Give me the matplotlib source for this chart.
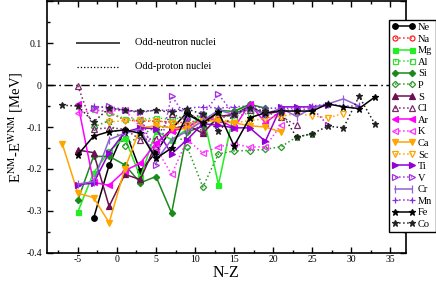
import matplotlib
matplotlib.use("Agg")
import matplotlib.pyplot as plt
from matplotlib.ticker import MultipleLocator, FuncFormatter

plt.rcParams['font.family'] = ['Liberation Serif', 'DejaVu Serif']
plt.rcParams['mathtext.fontset'] = 'stix'

# ---------------- data ----------------
ne_x = [-3, -1, 1, 3, 5, 7, 9, 11, 13]
ne_y = [-0.318, -0.191, -0.106, -0.205, -0.160, -0.105, -0.065, -0.090, -0.065]
na_x = [-1, 1, 3, 5, 7, 9, 11, 13, 15]
na_y = [-0.066, -0.083, -0.086, -0.086, -0.088, -0.090, -0.082, -0.075, -0.070]
mg_x = [-5, -3, -1, 1, 3, 5, 7, 9, 11, 13, 15, 17]
mg_y = [-0.302, -0.209, -0.158, -0.125, -0.220, -0.110, -0.130, -0.105, -0.068, -0.237, -0.062, -0.046]
al_x = [-3, -1, 1, 3, 5, 7, 9, 11, 13, 15, 17, 19, 21]
al_y = [-0.058, -0.065, -0.080, -0.082, -0.078, -0.082, -0.075, -0.075, -0.072, -0.075, -0.066, -0.070, -0.062]
si_x = [-5, -3, -1, 1, 3, 5, 7, 9, 11, 13, 15, 17, 19]
si_y = [-0.274, -0.170, -0.170, -0.190, -0.233, -0.218, -0.305, -0.112, -0.098, -0.060, -0.063, -0.046, -0.055]
p_x = [-3, -1, 1, 3, 5, 7, 9, 11, 13, 15, 17, 19, 21, 23, 25]
p_y = [-0.100, -0.085, -0.145, -0.120, -0.100, -0.100, -0.148, -0.243, -0.164, -0.157, -0.156, -0.153, -0.147, -0.124, -0.116]
s_x = [-5, -3, -1, 1, 3, 5, 7, 9, 11, 13, 15, 17, 19, 21]
s_y = [-0.155, -0.161, -0.289, -0.213, -0.225, -0.140, -0.105, -0.095, -0.115, -0.075, -0.070, -0.050, -0.070, -0.060]
cl_x = [-5, -3, -1, 1, 3, 5, 7, 9, 11, 13, 15, 17, 19, 21, 23]
cl_y = [-0.002, -0.105, -0.102, -0.105, -0.130, -0.128, -0.068, -0.085, -0.110, -0.080, -0.070, -0.060, -0.065, -0.075, -0.096]
ar_x = [-5, -3, -1, 1, 3, 5, 7, 9, 11, 13, 15, 17, 19, 21]
ar_y = [-0.045, -0.232, -0.239, -0.204, -0.186, -0.138, -0.110, -0.100, -0.080, -0.082, -0.102, -0.045, -0.090, -0.062]
k_x = [-5, -3, -1, 1, 3, 5, 7, 9, 11, 13, 15, 17, 19, 21]
k_y = [-0.066, -0.060, -0.062, -0.060, -0.100, -0.150, -0.213, -0.130, -0.162, -0.147, -0.140, -0.148, -0.147, -0.095]
ca_x = [-7, -5, -3, -1, 1, 3, 5, 7, 9, 11, 13, 15, 17, 19, 21]
ca_y = [-0.140, -0.258, -0.268, -0.328, -0.200, -0.102, -0.097, -0.102, -0.105, -0.086, -0.085, -0.090, -0.097, -0.100, -0.112]
sc_x = [-1, 1, 3, 5, 7, 9, 11, 13, 15, 17, 19, 21, 23, 25, 27, 29]
sc_y = [-0.088, -0.085, -0.083, -0.085, -0.090, -0.095, -0.085, -0.080, -0.090, -0.085, -0.080, -0.075, -0.068, -0.073, -0.078, -0.068]
ti_x = [-5, -3, -1, 1, 3, 5, 7, 9, 11, 13, 15, 17, 19, 21, 23, 25, 27]
ti_y = [-0.237, -0.234, -0.161, -0.112, -0.102, -0.104, -0.164, -0.130, -0.092, -0.096, -0.102, -0.102, -0.134, -0.052, -0.052, -0.052, -0.048]
v_x = [-3, -1, 1, 3, 5, 7, 9, 11, 13, 15, 17, 19, 21, 23, 25, 27]
v_y = [-0.055, -0.050, -0.060, -0.065, -0.190, -0.026, -0.080, -0.070, -0.022, -0.070, -0.055, -0.070, -0.060, -0.060, -0.055, -0.095]
cr_x = [-5, -3, -1, 1, 3, 5, 7, 9, 11, 13, 15, 17, 19, 21, 23, 25, 27, 29, 31]
cr_y = [-0.236, -0.230, -0.130, -0.115, -0.105, -0.180, -0.130, -0.110, -0.085, -0.060, -0.070, -0.055, -0.070, -0.055, -0.075, -0.055, -0.045, -0.033, -0.050]
mn_x = [-3, -1, 1, 3, 5, 7, 9, 11, 13, 15, 17, 19, 21, 23, 25, 27, 29, 31]
mn_y = [-0.050, -0.055, -0.060, -0.065, -0.060, -0.060, -0.055, -0.052, -0.055, -0.052, -0.050, -0.055, -0.055, -0.055, -0.050, -0.045, -0.050, -0.050]
fe_x = [-5, -3, -1, 1, 3, 5, 7, 9, 11, 13, 15, 17, 19, 21, 23, 25, 27, 29, 31, 33]
fe_y = [-0.166, -0.122, -0.111, -0.107, -0.115, -0.175, -0.150, -0.070, -0.090, -0.065, -0.145, -0.078, -0.066, -0.062, -0.062, -0.062, -0.045, -0.052, -0.056, -0.029]
co_x = [-7, -5, -3, -1, 1, 3, 5, 7, 9, 11, 13, 15, 17, 19, 21, 23, 25, 27, 29, 31, 33]
co_y = [-0.048, -0.050, -0.088, -0.055, -0.060, -0.063, -0.060, -0.065, -0.057, -0.070, -0.110, -0.070, -0.055, -0.062, -0.065, -0.124, -0.116, -0.098, -0.102, -0.027, -0.092]

labels = ["Ne", "Na", "Mg", "Al", "Si", "P", "S", "Cl", "Ar", "K",
          "Ca", "Sc", "Ti", "V", "Cr", "Mn", "Fe", "Co"]
xs = [ne_x, na_x, mg_x, al_x, si_x, p_x, s_x, cl_x, ar_x, k_x,
      ca_x, sc_x, ti_x, v_x, cr_x, mn_x, fe_x, co_x]
ys = [ne_y, na_y, mg_y, al_y, si_y, p_y, s_y, cl_y, ar_y, k_y,
      ca_y, sc_y, ti_y, v_y, cr_y, mn_y, fe_y, co_y]

colors = ["#000000", "#ff2020", "#22ee22", "#33dd33", "#1a8a1a", "#2a9a2a",
          "#6b1050", "#7a2a6a", "#ff00ff", "#ff33ff", "#ffa500", "#ffa500",
          "#9400d3", "#a030e0", "#9060d8", "#8a2be2", "#000000", "#222222"]
markers = ["o", "o", "s", "s", "D", "D", "^", "^", "<", "<",
           "v", "v", ">", ">", "|", "+", "*", "*"]
filled = [True, False, True, False, True, False, True, False, True, False,
          True, False, True, False, True, True, True, True]
msizes = [4, 3.6, 3.6, 3.6, 3.2, 3.2, 4, 4, 4, 4,
          4.5, 4.5, 4, 4, 5.5, 4.5, 4.5, 4.5]

fig = plt.figure(figsize=(4.36, 2.81), dpi=100)
ax = fig.add_axes([0.107, 0.1, 0.824, 0.896])

ax.axhline(0, color="black", lw=1.0, ls=(0, (6, 2.5, 1.2, 2.5)))

handles = []
for i, (lab, x, y) in enumerate(zip(labels, xs, ys)):
    ls = "-" if i % 2 == 0 else ":"
    mfc = colors[i] if filled[i] else "none"
    h, = ax.plot(x, y, ls=ls, color=colors[i], lw=1.1, marker=markers[i],
                 ms=msizes[i], mfc=mfc, mec=colors[i], mew=0.9, label=lab)
    handles.append(h)

ax.set_xlim(-9, 37)
ax.set_ylim(-0.4, 0.2)
ax.xaxis.set_major_locator(MultipleLocator(5))
ax.xaxis.set_minor_locator(MultipleLocator(2.5))
ax.yaxis.set_major_locator(MultipleLocator(0.1))
ax.yaxis.set_minor_locator(MultipleLocator(0.05))
ax.tick_params(which="both", direction="in", top=True, right=True, labelsize=7)
ax.tick_params(which="major", length=4, width=1)
ax.tick_params(which="minor", length=2.5, width=1)
ax.tick_params(axis="x", pad=1.5)
ax.xaxis.set_major_formatter(FuncFormatter(lambda v, p: "%g" % v if v <= 35 else ""))
ax.yaxis.set_major_formatter(FuncFormatter(lambda v, p: ("%g" % round(v, 2)) if v < 0.15 else ""))
for s in ax.spines.values():
    s.set_linewidth(1.2)

ax.set_xlabel("N-Z", fontsize=11.5, labelpad=0.5)
ax.set_ylabel(r"E$^{\rm NM}$-E$^{\rm WNM}$ [MeV]", fontsize=10.5, labelpad=1)

# line-style key inside the plot
ax.plot([0.085, 0.2], [0.835, 0.835], transform=ax.transAxes, color="#444444", lw=1.4)
ax.plot([0.085, 0.2], [0.74, 0.74], transform=ax.transAxes, color="black", lw=0.9, ls=":")
ax.text(0.245, 0.835, "Odd-neutron nuclei", transform=ax.transAxes, fontsize=7.5, va="center")
ax.text(0.245, 0.74, "Odd-proton nuclei", transform=ax.transAxes, fontsize=7.5, va="center")

leg = fig.legend(handles=handles, loc="upper right", bbox_to_anchor=(0.999, 0.93),
                 fontsize=7.5, frameon=True, fancybox=False, numpoints=2,
                 handlelength=2.2, handletextpad=0.3, labelspacing=0.22,
                 borderpad=0.3, borderaxespad=0.0)
leg.get_frame().set_edgecolor("black")
leg.get_frame().set_linewidth(1.0)
leg.get_frame().set_alpha(1)

fig.savefig("out.png", dpi=100)
